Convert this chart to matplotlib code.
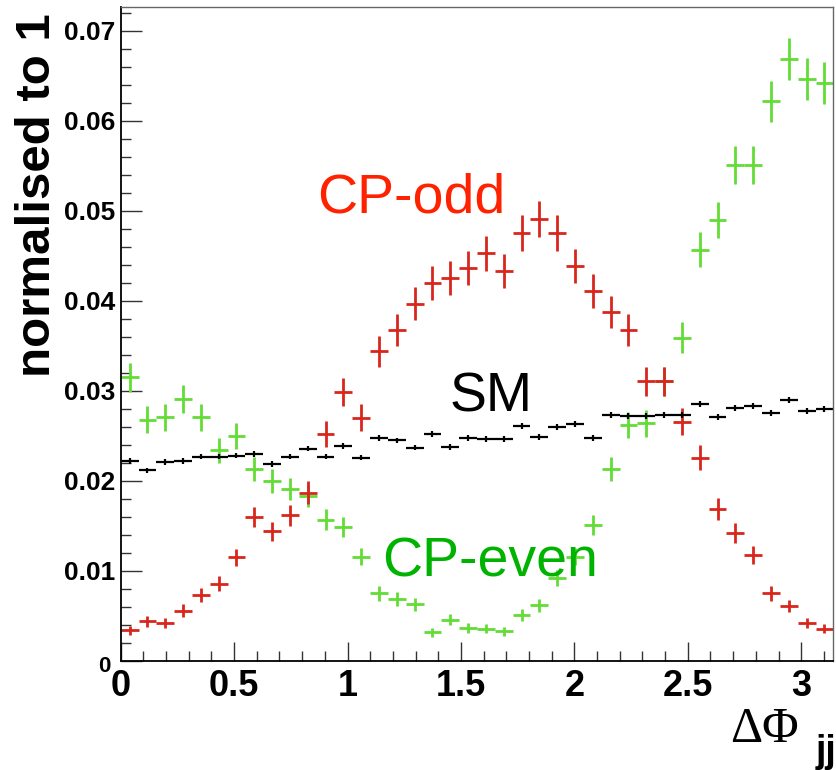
import numpy as np
import matplotlib.pyplot as plt
import matplotlib.transforms as mtransforms
from matplotlib.ticker import MultipleLocator

# 40 bins of delta phi_jj between 0 and pi, each histogram normalised to 1
n_bins = 40
sm = [0.0222, 0.0212, 0.0221, 0.0222, 0.0227, 0.0227, 0.0228, 0.0230, 0.0219, 0.0227,
      0.0236, 0.0227, 0.0239, 0.0226, 0.0248, 0.0245, 0.0237, 0.0252, 0.0238, 0.0248,
      0.0247, 0.0247, 0.0261, 0.0249, 0.0260, 0.0263, 0.0248, 0.0273, 0.0272, 0.0272,
      0.0273, 0.0273, 0.0286, 0.0271, 0.0281, 0.0283, 0.0275, 0.0290, 0.0278, 0.0280]
cp_odd = [0.0034, 0.0044, 0.0042, 0.0056, 0.0073, 0.0086, 0.0115, 0.0160, 0.0144, 0.0162,
          0.0187, 0.0252, 0.0299, 0.0270, 0.0344, 0.0368, 0.0397, 0.0420, 0.0426, 0.0437,
          0.0453, 0.0433, 0.0476, 0.0491, 0.0476, 0.0439, 0.0411, 0.0388, 0.0368, 0.0311,
          0.0311, 0.0266, 0.0226, 0.0169, 0.0142, 0.0118, 0.0075, 0.0061, 0.0042, 0.0036]
cp_even = [0.0315, 0.0268, 0.0271, 0.0291, 0.0271, 0.0234, 0.0250, 0.0213, 0.0200, 0.0191,
           0.0183, 0.0157, 0.0149, 0.0116, 0.0075, 0.0069, 0.0063, 0.0032, 0.0046, 0.0037,
           0.0036, 0.0033, 0.0051, 0.0062, 0.0092, 0.0116, 0.0151, 0.0213, 0.0262, 0.0264,
           0.0311, 0.0359, 0.0457, 0.0490, 0.0551, 0.0551, 0.0622, 0.0669, 0.0647, 0.0642]

# approximate sample sizes, used for the statistical error bars
n_events_cp = 12000
n_events_sm = 250000

xtick_labels = ["0", "0.5", "1", "1.5", "2", "2.5", "3"]
ytick_labels = ["0", "0.01", "0.02", "0.03", "0.04", "0.05", "0.06", "0.07"]

edges = np.linspace(0, np.pi, n_bins + 1)
centres = 0.5 * (edges[:-1] + edges[1:])
half = 0.5 * (edges[1] - edges[0])

fig = plt.figure(figsize=(8.37, 7.7), dpi=100)
ax = fig.add_axes([0.1442, 0.1416, 0.8514, 0.8489])

histos = [
    (cp_even, n_events_cp, "#62dd35", 2.0),
    (cp_odd, n_events_cp, "#d8261c", 2.0),
    (sm, n_events_sm, "black", 1.6),
]
for vals, n_ev, col, lw in histos:
    vals = np.array(vals)
    ax.errorbar(centres, vals, xerr=half, yerr=np.sqrt(vals / n_ev),
                fmt="none", ecolor=col, elinewidth=lw, capsize=0)

ax.set_xlim(0, np.pi)
ax.set_ylim(0, 0.07263)

ax.xaxis.set_minor_locator(MultipleLocator(0.1))
ax.yaxis.set_minor_locator(MultipleLocator(0.002))
ax.set_xticks(np.arange(len(xtick_labels)) * 0.5)
ax.set_xticklabels(xtick_labels)
ax.set_yticks(np.arange(len(ytick_labels)) * 0.01)
ax.set_yticklabels(ytick_labels)

ax.tick_params(axis="both", which="both", direction="in", color="#333333", width=1.0)
ax.tick_params(axis="x", which="major", length=14, pad=6)
ax.tick_params(axis="x", which="minor", length=7)
ax.tick_params(axis="y", which="major", length=15, pad=4)
ax.tick_params(axis="y", which="minor", length=7.5)

for lab in ax.get_xticklabels():
    lab.set_fontfamily("Liberation Sans")
    lab.set_fontweight("bold")
    lab.set_fontsize(26)
for lab in ax.get_yticklabels():
    lab.set_fontfamily("Liberation Sans")
    lab.set_fontweight("bold")
    lab.set_fontsize(19)

# ROOT draws the y "0" a bit below its tick, next to the x "0"
zero_lab = ax.get_yticklabels()[0]
zero_lab.set_fontsize(16)
zero_lab.set_transform(zero_lab.get_transform()
                       + mtransforms.ScaledTranslation(-3 / 72, -2 / 72, fig.dpi_scale_trans))

for side in ["left", "bottom"]:
    ax.spines[side].set_linewidth(1.3)
for side in ["top", "right"]:
    ax.spines[side].set_linewidth(1.0)
    ax.spines[side].set_color("#666666")

ax.text(0.868, 0.0498, "CP-odd", color="#ff2200", fontsize=40,
        family="Liberation Sans", ha="left", va="baseline")
ax.text(1.449, 0.0277, "SM", color="black", fontsize=40,
        family="Liberation Sans", ha="left", va="baseline")
ax.text(1.153, 0.00937, "CP-even", color="#00b300", fontsize=40,
        family="Liberation Sans", ha="left", va="baseline")

fig.text(15 / 837, 1 - 13 / 770, "normalised to 1", rotation=90, fontsize=35.5,
         fontweight="bold", family="Liberation Sans", ha="left", va="top")

fig.text(799 / 837, 1 - 742 / 770, "\u0394\u03a6", fontsize=36,
         family="Liberation Serif", ha="right", va="baseline")
fig.text(816 / 837, 1 - 762 / 770, "jj", fontsize=27, fontweight="bold",
         family="Liberation Sans", ha="left", va="baseline")

fig.savefig("out.png", dpi=100)
